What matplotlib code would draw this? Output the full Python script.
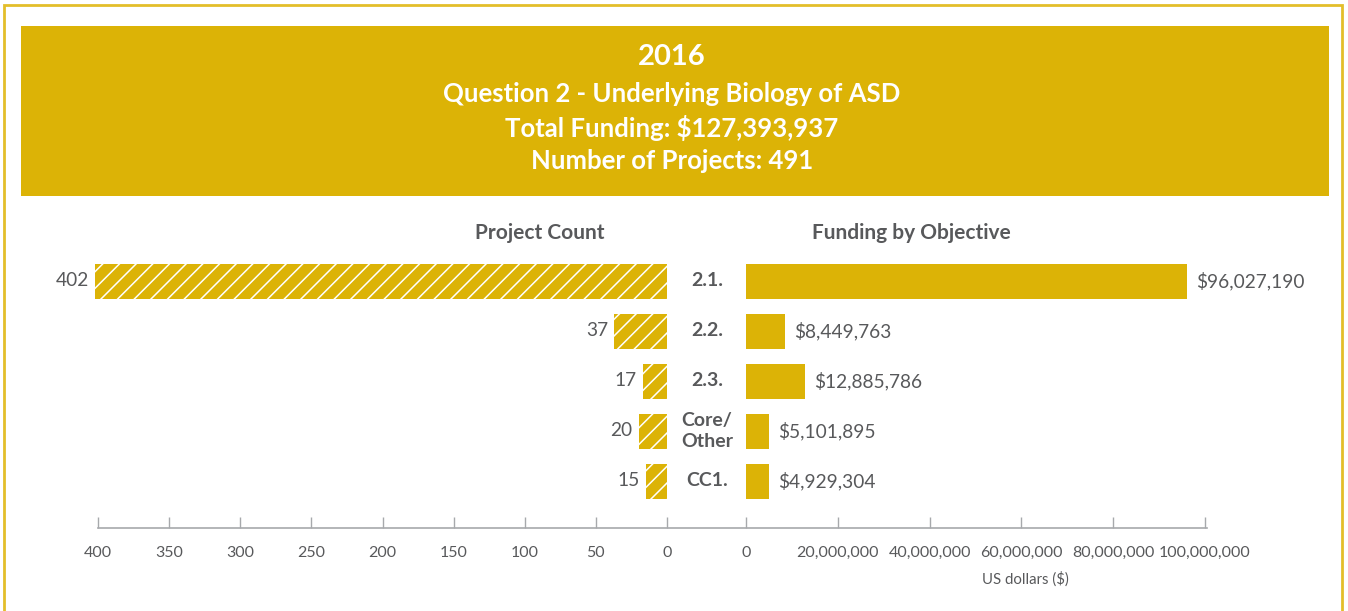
import matplotlib
matplotlib.use("Agg")
import matplotlib.pyplot as plt
from matplotlib.patches import Rectangle
from matplotlib.lines import Line2D
import matplotlib.transforms as mtransforms

plt.rcParams['font.family'] = ['Lato', 'DejaVu Sans']
plt.rcParams['hatch.linewidth'] = 1.1

# ---- data ----
year = "2016"
title_line = "Question 2 - Underlying Biology of ASD"
total_funding = "$127,393,937"
num_projects = 491
categories = ["2.1.", "2.2.", "2.3.", "Core/\nOther", "CC1."]
project_counts = [402, 37, 17, 20, 15]
funding = [96027190, 8449763, 12885786, 5101895, 4929304]
count_ticks = [400, 350, 300, 250, 200, 150, 100, 50, 0]
fund_ticks = [0, 20000000, 40000000, 60000000, 80000000, 100000000]

GOLD = '#DCB306'
TXT = '#58595B'
AXC = '#A7A9AC'

W, H = 1348, 611
fig = plt.figure(figsize=(W / 100, H / 100), dpi=100)

def fx(px):
    return px / W

def fy(py):
    return 1 - py / H

# outer frame
fig.add_artist(Rectangle((fx(4), fy(700)), fx(1338), (700 - 5) / H,
                         transform=fig.transFigure, fill=False,
                         edgecolor='#E3BE2A', linewidth=2))
# header box
fig.add_artist(Rectangle((fx(21), fy(196)), fx(1329 - 21), (196 - 26) / H,
                         transform=fig.transFigure, facecolor=GOLD,
                         edgecolor='none'))
cx = fx(672)
fig.text(cx, fy(57), year, ha='center', va='center', color='white',
         fontsize=21, fontweight='bold')
fig.text(cx, fy(94), title_line, ha='center', va='center', color='white',
         fontsize=18.5, fontweight='bold')
fig.text(cx, fy(128), f"Total Funding: {total_funding}", ha='center',
         va='center', color='white', fontsize=18.5, fontweight='bold')
fig.text(cx, fy(161), f"Number of Projects: {num_projects}", ha='center',
         va='center', color='white', fontsize=18.5, fontweight='bold')

# axes geometry
top_px, bot_px = 256, 528
first_c, step = 281, 50
ylo = (bot_px - first_c) / step
yhi = -(first_c - top_px) / step
ypos = list(range(len(categories)))

axL = fig.add_axes([fx(98), fy(bot_px), fx(667 - 98), (bot_px - top_px) / H])
axR = fig.add_axes([fx(746), fy(bot_px), fx(1205 - 746), (bot_px - top_px) / H])

axL.barh(ypos, project_counts, height=0.7, color=GOLD, edgecolor='white',
         linewidth=0, hatch='//', clip_on=False)
axL.set_xlim(400, 0)
axR.barh(ypos, funding, height=0.7, color=GOLD, edgecolor='none', clip_on=False)
axR.set_xlim(0, 100000000)

for ax in (axL, axR):
    ax.set_ylim(ylo, yhi)
    for s in ax.spines.values():
        s.set_visible(False)
    ax.set_yticks([])
    ax.tick_params(axis='x', direction='in', length=8, width=1, color=AXC,
                   labelcolor=TXT, labelsize=11.5, pad=13)
    ax.patch.set_alpha(0)

axL.set_xticks(count_ticks)
axL.set_xticklabels([str(t) for t in count_ticks])
axR.set_xticks(fund_ticks)
axR.set_xticklabels([f"{t:,}" for t in fund_ticks])

# value labels
offL = mtransforms.offset_copy(axL.transData, fig=fig, x=-6, y=0, units='dots')
for y, v in zip(ypos, project_counts):
    axL.text(v, y, str(v), transform=offL, ha='right', va='center',
             color=TXT, fontsize=13.8)
offR = mtransforms.offset_copy(axR.transData, fig=fig, x=9, y=0, units='dots')
for y, v in zip(ypos, funding):
    axR.text(v, y, f"${v:,}", transform=offR, ha='left', va='center',
             color=TXT, fontsize=13.8)

# category labels
tr = mtransforms.blended_transform_factory(fig.transFigure, axL.transData)
for y, c in zip(ypos, categories):
    axL.text(fx(707), y, c, transform=tr, ha='center', va='center',
             color=TXT, fontsize=14, fontweight='bold', linespacing=1.3,
             clip_on=False)

# titles
fig.text(fx(540), fy(233), "Project Count", ha='center', va='center',
         color=TXT, fontsize=15, fontweight='bold')
fig.text(fx(911), fy(233), "Funding by Objective", ha='center', va='center',
         color=TXT, fontsize=15, fontweight='bold')
fig.text(fx(1025), fy(579), "US dollars ($)", ha='center', va='center',
         color=TXT, fontsize=10.8)

# baseline
fig.add_artist(Line2D([fx(98), fx(1207)], [fy(528), fy(528)],
                      transform=fig.transFigure, color=AXC, linewidth=1.2))

fig.savefig("out.png", dpi=100)
